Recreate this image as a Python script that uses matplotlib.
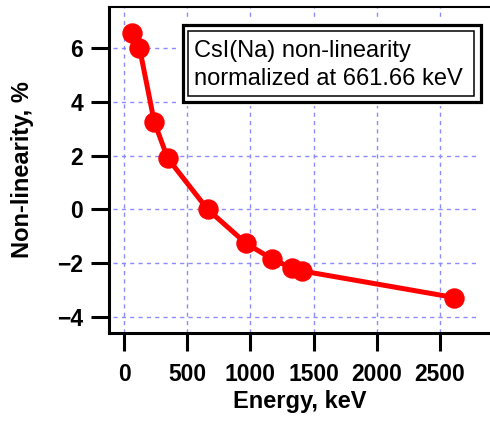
import matplotlib
matplotlib.use("Agg")
import matplotlib.pyplot as plt
from matplotlib.patches import Rectangle

# CsI(Na) non-linearity vs gamma energy
energy = [59.5, 122.1, 238.6, 344.3, 661.66, 964.1, 1173.2, 1332.5, 1408.0, 2614.5]
nonlin = [6.55, 6.02, 3.27, 1.91, 0.0, -1.26, -1.85, -2.19, -2.29, -3.28]

xticks = [0, 500, 1000, 1500, 2000, 2500]
yticks = [-4, -2, 0, 2, 4, 6]

plt.rcParams['font.family'] = ['Liberation Sans', 'DejaVu Sans']

W, H = 490, 424
fig = plt.figure(figsize=(W / 100, H / 100), dpi=100)
ax = fig.add_axes([109 / W, 1 - 332.5 / H, 1 - 109 / W, (332.5 - 7) / H])

ax.set_xlim(-119, 2896)
ax.set_ylim(-4.58, 7.53)

# dashed grid
ax.hlines(yticks, -87, 2800, colors='#8c8cff', linestyles=(0, (3, 3)), linewidth=1, zorder=1)
ax.vlines(xticks, -4.58, 7.53, colors='#8c8cff', linestyles=(0, (3, 3)), linewidth=1, zorder=1)

ax.plot(energy, nonlin, '-o', color='red', linewidth=3.6, markersize=13.7, zorder=5)

ax.set_xticks(xticks)
ax.set_yticks(yticks)
ax.tick_params(direction='out', length=13, width=2.2, labelsize=16.5)
ax.tick_params(axis='x', pad=9)
ax.tick_params(axis='y', pad=5.5)
for lab in ax.get_xticklabels() + ax.get_yticklabels():
    lab.set_fontweight('bold')

ax.spines['right'].set_visible(False)
ax.spines['left'].set_linewidth(2.2)
ax.spines['bottom'].set_linewidth(2.2)
ax.spines['top'].set_linewidth(1.5)

ax.set_xlabel("Energy, keV", fontsize=17, fontweight='bold', labelpad=3)
ax.set_ylabel("Non-linearity, %", fontsize=17, fontweight='bold', labelpad=17)

# annotation box with double border (figure pixel coords, origin top-left)
def fig_rect(x0, y0, x1, y1, **kw):
    r = Rectangle((x0 / W, 1 - y1 / H), (x1 - x0) / W, (y1 - y0) / H,
                  transform=fig.transFigure, **kw)
    fig.patches.append(r)

fig_rect(178, 20, 486, 106, facecolor='white', edgecolor='none', zorder=3)
fig_rect(183, 25, 481, 102, facecolor='none', edgecolor='black', linewidth=2.3, zorder=4)
fig_rect(188, 31, 474, 96, facecolor='none', edgecolor='black', linewidth=1.1, zorder=4)

fig.text(194 / W, 1 - 57 / H, "CsI(Na) non-linearity", fontsize=17, va='baseline', zorder=6)
fig.text(194 / W, 1 - 85 / H, "normalized at 661.66 keV", fontsize=17, va='baseline', zorder=6)

fig.savefig("out.png", dpi=100)
